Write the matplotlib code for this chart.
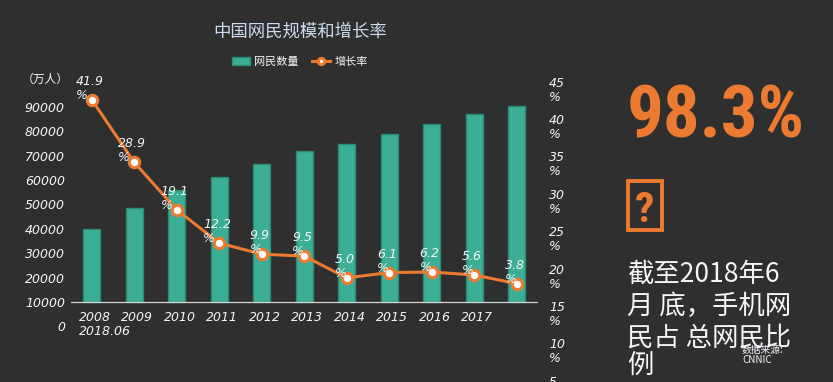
import matplotlib
matplotlib.use('Agg')
import matplotlib.pyplot as plt
from matplotlib import font_manager
from matplotlib.patches import Rectangle
import numpy as np

# ---------------- data ----------------
categories = ["2008", "2009", "2010", "2011", "2012", "2013", "2014", "2015",
              "2016", "2017", "2018.06"]
netizens = [29800, 38400, 45730, 51310, 56400, 61758, 64875, 68826, 73125, 77198, 80166]
growth = [41.9, 28.9, 19.1, 12.2, 9.9, 9.5, 5.0, 6.1, 6.2, 5.6, 3.8]
left_tick_labels = ["0", "10000", "20000", "30000", "40000", "50000",
                    "60000", "70000", "80000", "90000"]
right_tick_labels = [45, 40, 35, 30, 25, 20, 15, 10, 5]
title = "中国网民规模和增长率"
series_names = ["网民数量", "增长率"]
unit_label = "（万人）"
highlight_value = "98.3%"
note_lines = ["截至2018年6", "月 底，手机网", "民占 总网民比", "例"]
source_text = "数据来源:\nCNNIC"

# ---------------- style ----------------
BG = '#2f2f2f'
TEAL = '#3cae95'
TEAL_EDGE = '#2b8a72'
ORANGE = '#ec7a30'
TXT = '#f4f6fa'
TITLE_COL = '#cddcee'
CJK = ['Noto Sans CJK SC', 'DejaVu Sans']
plt.rcParams['font.family'] = CJK

W, H = 833, 382
fig = plt.figure(figsize=(W / 100, H / 100), dpi=100, facecolor=BG)

# axes geometry in pixels
AX_L, AX_R, AX_T, AX_B = 70.5, 538.0, 60.0, 400.0
BASE = 302.0          # pixel row of the bar baseline
S1 = 24.4 / 10000     # px per unit (left)
S2 = 4.83             # px per percent (right)

ax = fig.add_axes([AX_L / W, 1 - AX_B / H, (AX_R - AX_L) / W, (AX_B - AX_T) / H])
ax.patch.set_alpha(0)
x = np.arange(len(categories))
ax.set_xlim(-0.5, len(categories) - 0.5)
ax.set_ylim(-(AX_B - BASE) / S1, (BASE - AX_T) / S1)

bars = ax.bar(x, netizens, width=0.4, color=TEAL, edgecolor=TEAL_EDGE, linewidth=1, zorder=2)
ax.axhline(0, color='#d4d4d4', lw=0.9, zorder=3)

ax.set_xticks([])
left_pos = [(i - 1) * 10000 for i in range(len(left_tick_labels))]
ax.set_yticks(left_pos, left_tick_labels)
ax.tick_params(axis='y', length=0, pad=4, labelsize=9, labelcolor=TXT)
for lbl in ax.get_yticklabels():
    lbl.set_fontstyle('italic')
    lbl.set_family('DejaVu Sans')
for s in ax.spines.values():
    s.set_visible(False)

# category labels
for i, c in enumerate(categories[:-1]):
    ax.annotate(c, xy=(x[i], 0), xytext=(2.2, -11.5), textcoords='offset points',
                ha='center', va='center', fontsize=9, color=TXT,
                family='DejaVu Sans', style='italic')
ax.annotate(categories[-1], xy=(x[0], 0), xytext=(-9.5, -21.5), textcoords='offset points',
            ha='left', va='center', fontsize=9, color=TXT,
            family='DejaVu Sans', style='italic')

# right axis
ax2 = ax.twinx()
ax2.set_ylim(-(AX_B - BASE) / S2, (BASE - AX_T) / S2)
line, = ax2.plot(x, growth, color=ORANGE, lw=2.2, marker='o', ms=7.5,
                 mfc='white', mec=ORANGE, mew=2.2, zorder=4)
right_pos = [1.548 * L - 25.8 for L in right_tick_labels]
ax2.set_yticks(right_pos, [f"{L}\n%" for L in right_tick_labels])
ax2.tick_params(axis='y', length=0, pad=8, labelsize=9, labelcolor=TXT)
for lbl in ax2.get_yticklabels():
    lbl.set_fontstyle('italic')
    lbl.set_family('DejaVu Sans')
    lbl.set_multialignment('left')
    lbl.set_verticalalignment('center')
    lbl.set_linespacing(1.1)
for s in ax2.spines.values():
    s.set_visible(False)

for xi, g in zip(x, growth):
    ax2.annotate(f"{g:.1f}\n%", xy=(xi, g), xytext=(-1.5, -1.5), textcoords='offset points',
                 ha='center', va='bottom', multialignment='left', fontsize=9,
                 color=TXT, family='DejaVu Sans', style='italic', zorder=6,
                 linespacing=1.1)

# title / legend / unit
fig.text(300 / W, 1 - 32 / H, title, ha='center', va='center', fontsize=12.5, color=TITLE_COL)
fig.text(22 / W, 1 - 79 / H, unit_label, ha='left', va='center', fontsize=8.5, color=TXT)
fig.legend(handles=[bars, line], labels=series_names, loc='center',
           bbox_to_anchor=(300 / W, 1 - 62 / H), ncol=2, frameon=False, fontsize=8,
           handlelength=1.6, handletextpad=0.4, columnspacing=1.2, labelcolor=TXT,
           markerscale=0.6)

# right panel
avail = {f.name for f in font_manager.fontManager.ttflist}
big_family = next((f for f in ['Liberation Sans Narrow', 'DejaVu Sans Condensed',
                               'Roboto Condensed', 'Open Sans Condensed']
                   if f in avail), 'DejaVu Sans')
big = fig.text(627 / W, 1 - 137 / H, highlight_value, ha='left', va='baseline',
               fontsize=56, weight='bold', color=ORANGE, family=big_family)
fig.canvas.draw()
bb = big.get_window_extent()
if bb.width > 178:
    big.set_fontsize(56 * 178 / bb.width)

fig.add_artist(Rectangle((628 / W, 1 - 230 / H), 34 / W, 49 / H, transform=fig.transFigure,
                         fill=False, edgecolor=ORANGE, linewidth=2.8))
fig.text(645 / W, 1 - 222 / H, "?", ha='center', va='baseline', fontsize=31,
         weight='bold', color=ORANGE, family=big_family)

for line_txt, yb in zip(note_lines, [282, 314, 346, 373]):
    fig.text(627 / W, 1 - yb / H, line_txt, ha='left', va='baseline', fontsize=19, color=TXT)

fig.text(742 / W, 1 - 355 / H, source_text, ha='left', va='center', fontsize=7,
         color=TXT, multialignment='left', linespacing=1.1)

fig.savefig('out.png', dpi=100, facecolor=BG)
